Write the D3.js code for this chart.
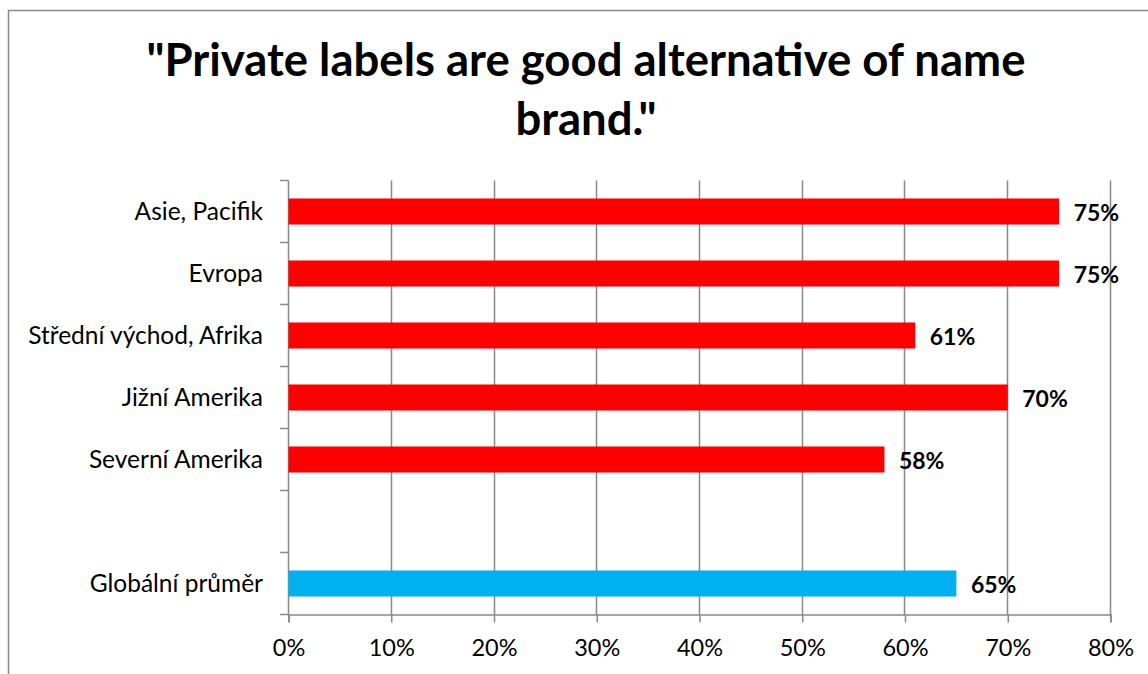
<!DOCTYPE html>
<html>
<head>
<meta charset="utf-8">
<script src="https://cdn.jsdelivr.net/npm/d3@7"></script>
<style>
  html, body { margin: 0; padding: 0; background: #ffffff; }
  svg { display: block; }
  text { font-family: Lato, "Open Sans", sans-serif; fill: #000; }
</style>
</head>
<body>
<svg id="chart" width="1148" height="674"></svg>
<script>
// Survey results by region
const categories = ["Asie, Pacifik", "Evropa", "Střední východ, Afrika", "Jižní Amerika", "Severní Amerika", "", "Globální průměr"];
const values = [0.75, 0.75, 0.61, 0.70, 0.58, null, 0.65];
const barColors = ["#FF0000", "#FF0000", "#FF0000", "#FF0000", "#FF0000", null, "#00B0F0"];
const xTicks = [0, 0.1, 0.2, 0.3, 0.4, 0.5, 0.6, 0.7, 0.8];
const titleLines = ["\"Private labels are good alternative of name", "brand.\""];

const svg = d3.select("#chart");
const gridColor = "#898989";

// outer frame
svg.append("rect")
  .attr("x", 8.5).attr("y", 10.5)
  .attr("width", 1160).attr("height", 700)
  .attr("fill", "none").attr("stroke", gridColor).attr("stroke-width", 1.5);

// title
svg.append("g").selectAll("text").data(titleLines).join("text")
  .attr("x", 586).attr("y", (d, i) => 76 + i * 59)
  .attr("text-anchor", "middle")
  .style("font-weight", "bold").style("font-size", "45.5px")
  .text(d => d);

const x = d3.scaleLinear().domain([0, 0.8]).range([288, 1110]);
const y = d3.scaleBand().domain(d3.range(categories.length)).range([180.5, 614.5]).padding(0);
const plotTop = y.range()[0], plotBottom = y.range()[1];

// vertical gridlines
svg.append("g").selectAll("line").data(xTicks.slice(1)).join("line")
  .attr("x1", d => Math.round(x(d)) + 0.5).attr("x2", d => Math.round(x(d)) + 0.5)
  .attr("y1", plotTop).attr("y2", plotBottom)
  .attr("stroke", gridColor).attr("stroke-width", 1.5);

// x axis
const xAxis = d3.axisBottom(x).tickValues(xTicks).tickFormat(d3.format(".0%")).tickSize(8).tickPadding(17);
const gx = svg.append("g").attr("transform", `translate(0.5,${plotBottom})`).call(xAxis);
gx.select(".domain").attr("stroke", gridColor).attr("stroke-width", 1.5);
gx.selectAll(".tick line").attr("stroke", gridColor).attr("stroke-width", 1.5);
gx.selectAll(".tick text").style("font-size", "23.5px").attr("font-family", null).attr("fill", "#000");

// y axis line and category separator ticks
svg.append("line")
  .attr("x1", 288.5).attr("x2", 288.5).attr("y1", plotTop).attr("y2", plotBottom)
  .attr("stroke", gridColor).attr("stroke-width", 1.5);
const boundaries = d3.range(categories.length + 1).map(i => plotTop + i * y.step());
svg.append("g").selectAll("line").data(boundaries).join("line")
  .attr("x1", 280).attr("x2", 288.5)
  .attr("y1", d => d).attr("y2", d => d)
  .attr("stroke", gridColor).attr("stroke-width", 1.5);

// category labels
svg.append("g").selectAll("text").data(categories).join("text")
  .attr("x", 263).attr("y", (d, i) => y(i) + y.bandwidth() / 2 + 8.5)
  .attr("text-anchor", "end").style("font-size", "24.5px")
  .text(d => d);

// bars
const rows = categories.map((c, i) => ({ c, i, v: values[i], color: barColors[i] })).filter(d => d.v != null);
const barH = y.bandwidth() * 0.42;
svg.append("g").selectAll("rect").data(rows).join("rect")
  .attr("x", x(0) + 0.5)
  .attr("y", d => y(d.i) + (y.bandwidth() - barH) / 2)
  .attr("width", d => x(d.v) - x(0))
  .attr("height", barH)
  .attr("fill", d => d.color);

// value labels
svg.append("g").selectAll("text").data(rows).join("text")
  .attr("x", d => x(d.v) + 15)
  .attr("y", d => y(d.i) + y.bandwidth() / 2 + 9)
  .style("font-weight", "bold").style("font-size", "23px")
  .text(d => d3.format(".0%")(d.v));
</script>
</body>
</html>
